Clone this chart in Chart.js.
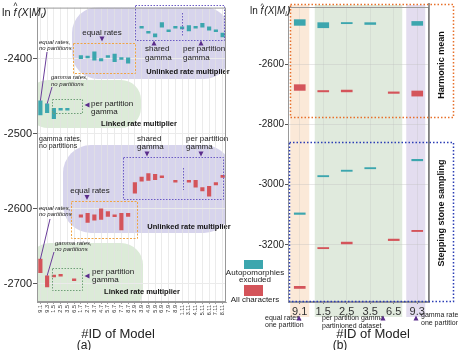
<!DOCTYPE html>
<html>
<head>
<meta charset="utf-8">
<script src="https://cdn.jsdelivr.net/npm/chart.js@4.4.0/dist/chart.umd.min.js"></script>
<style>
body { margin: 0; background: #fff; }
#wrap { position: relative; width: 458px; height: 350px; }
canvas { position: absolute; left: 0; top: 0; }
</style>
</head>
<body>
<div id="wrap">
  <canvas id="left" width="458" height="350"></canvas>
  <canvas id="right" width="458" height="350"></canvas>
</div>
<script>
// panel (a): all models
const modelsA = ['9.1','9.3','1.5','2.5','3.5','6.5','1.7','2.7','3.7','4.7','5.7','6.7','7.7','8.7',
                 '2.9','3.9','4.9','5.9','6.9','7.9','8.9','1.11','3.11','4.11','5.11','6.11','7.11','8.11'];
const autapoA = [
  [-2475,-2456], [-2472,-2460], [-2480,-2466], [-2468.5,-2466], [-2468.5,-2466], null,
  [-2400,-2396], [-2399,-2396.5], [-2402,-2391], [-2403,-2400], [-2398.5,-2396], [-2404,-2394], [-2401,-2398.5], [-2406,-2399],
  null, [-2359.5,-2357], [-2366,-2363.5], [-2371,-2367], [-2358,-2352], [-2364,-2361.5], [-2359.5,-2357],
  [-2360.5,-2357.5], [-2363,-2356], [-2359.5,-2357], [-2358,-2353], [-2362,-2357.5], [-2364,-2361.5], [-2371,-2366]
];
const allCharsA = [
  [-2685,-2667], [-2704,-2689], [-2690.5,-2688], [-2689.5,-2687], null, [-2695.5,-2693],
  [-2611,-2608], [-2618,-2606], [-2615,-2608], [-2614,-2600], [-2610,-2603.5], [-2610.5,-2608], [-2628,-2606], [-2610,-2606],
  [-2579,-2565], [-2563,-2557.5], [-2562,-2553], [-2561,-2554], [-2558.5,-2556], null, [-2564.5,-2562],
  null, [-2564.5,-2562], [-2571,-2562], [-2576,-2571.5], [-2583,-2570], [-2568,-2565], [-2558,-2555.5]
];
const ticksA = [-2700, -2600, -2500, -2400];

// panel (b): selected models, two estimators
const modelsB = ['9.1','1.5','2.5','3.5','6.5','9.3'];
const harmonicAutapo = [[-2471,-2452], [-2479,-2462], [-2463.5,-2461.5], [-2468,-2462], null, [-2471,-2458]];
const harmonicAll    = [[-2687,-2668], [-2692,-2687.5], [-2692,-2686], null, [-2697,-2692], [-2706,-2689]];
const steppingAutapo = [[-3099,-3094], [-2974,-2970], [-2955,-2952], [-2946,-2943.5], null, [-2921,-2916]];
const steppingAll    = [[-3345,-3338], [-3213,-3209], [-3197,-3191], null, [-3186,-3181], [-3156,-3152]];
const ticksB = [-3200, -3000, -2800, -2600];

const F = '"Liberation Sans", Arial, sans-serif';
const TEAL = 'rgb(60,166,174)';
const RED = 'rgb(212,84,90)';
const PURPLE = '#5b2d8c';

function rr(ctx, x0, y0, x1, y1, r) {
  ctx.beginPath();
  ctx.moveTo(x0 + r, y0);
  ctx.arcTo(x1, y0, x1, y1, r);
  ctx.arcTo(x1, y1, x0, y1, r);
  ctx.arcTo(x0, y1, x0, y0, r);
  ctx.arcTo(x0, y0, x1, y0, r);
  ctx.closePath();
}
function box(ctx, x0, y0, x1, y1, color, dash, lw) {
  ctx.save();
  ctx.strokeStyle = color; ctx.lineWidth = lw || 1; ctx.setLineDash(dash);
  ctx.strokeRect(x0 + 0.5, y0 + 0.5, x1 - x0, y1 - y0);
  ctx.restore();
}
function vline(ctx, x, y0, y1, color, dash) {
  ctx.save();
  ctx.strokeStyle = color; ctx.lineWidth = 1; ctx.setLineDash(dash);
  ctx.beginPath(); ctx.moveTo(x + 0.5, y0); ctx.lineTo(x + 0.5, y1); ctx.stroke();
  ctx.restore();
}
function txt(ctx, s, x, y, font, align, color) {
  ctx.save();
  ctx.font = font; ctx.textAlign = align || 'left'; ctx.textBaseline = 'middle';
  ctx.fillStyle = color || '#222';
  ctx.fillText(s, x, y);
  ctx.restore();
}
function tri(ctx, x, y, dir, s) {
  ctx.save();
  ctx.fillStyle = PURPLE;
  ctx.beginPath();
  if (dir === 'down') { ctx.moveTo(x - s, y - s); ctx.lineTo(x + s, y - s); ctx.lineTo(x, y + s); }
  if (dir === 'up')   { ctx.moveTo(x - s, y + s); ctx.lineTo(x + s, y + s); ctx.lineTo(x, y - s); }
  if (dir === 'left') { ctx.moveTo(x + s, y - s); ctx.lineTo(x + s, y + s); ctx.lineTo(x - s, y); }
  ctx.closePath(); ctx.fill();
  ctx.restore();
}
function leader(ctx, x0, y0, x1, y1) {
  ctx.save();
  ctx.strokeStyle = '#6a3d9a'; ctx.lineWidth = 1;
  ctx.beginPath(); ctx.moveTo(x0, y0); ctx.lineTo(x1, y1); ctx.stroke();
  ctx.restore();
}
function lnF(ctx, x, y, size) {
  ctx.save();
  ctx.fillStyle = '#222'; ctx.textBaseline = 'alphabetic'; ctx.textAlign = 'left';
  ctx.font = size + 'px ' + F;
  ctx.fillText('ln', x, y);
  let cx = x + ctx.measureText('ln ').width;
  ctx.font = 'italic ' + size + 'px ' + F;
  ctx.fillText('f', cx, y);
  const fw = ctx.measureText('f').width;
  ctx.font = (size * 0.75) + 'px ' + F;
  ctx.fillText('^', cx, y - size * 0.62);
  cx += fw + 1;
  ctx.font = 'italic ' + size + 'px ' + F;
  ctx.fillText('(X|M', cx, y);
  cx += ctx.measureText('(X|M').width;
  ctx.font = 'italic ' + (size * 0.65) + 'px ' + F;
  ctx.fillText('i', cx, y + 2);
  cx += ctx.measureText('i').width + 0.5;
  ctx.font = 'italic ' + size + 'px ' + F;
  ctx.fillText(')', cx, y);
  ctx.restore();
}
function frame(chart) {
  const a = chart.chartArea, ctx = chart.ctx;
  ctx.save();
  ctx.strokeStyle = '#999'; ctx.lineWidth = 1;
  ctx.strokeRect(a.left + 0.5, a.top + 0.5, a.right - a.left - 1, a.bottom - a.top - 1);
  ctx.restore();
}

const decoA = {
  id: 'decoA',
  beforeDraw(chart) {
    const ctx = chart.ctx, a = chart.chartArea;
    ctx.save();
    ctx.beginPath(); ctx.rect(a.left, a.top, a.right - a.left, a.bottom - a.top); ctx.clip();
    ctx.fillStyle = '#d7d4ec';
    rr(ctx, 72, 7, 230, 79, 26); ctx.fill();
    rr(ctx, 63, 145, 232, 233, 28); ctx.fill();
    ctx.fillStyle = '#dcebd8';
    rr(ctx, 28, 80, 141, 128, 20); ctx.fill();
    rr(ctx, 28, 243, 143, 312, 22); ctx.fill();
    ctx.restore();
  },
  afterDatasetsDraw(chart) {
    const ctx = chart.ctx, x = chart.scales.x, y = chart.scales.y;
    const OR = '#f0a444', PU = '#6c5cc4', GR = '#6f9f78';
    box(ctx, 73, 43, 135, 73, OR, [2, 1.5]);
    box(ctx, 135, 5, 224, 40, PU, [1.5, 1.5]);
    vline(ctx, 182, 13, 36, PU, [1.5, 1.5]);
    box(ctx, 52, 99, 82, 113, GR, [1.5, 1.5]);
    box(ctx, 123, 157, 223, 199, PU, [1.5, 1.5]);
    vline(ctx, 183, 168, 190, PU, [1.5, 1.5]);
    box(ctx, 71, 201, 137, 238, OR, [2, 1.5]);
    box(ctx, 52, 268, 82, 290, GR, [1.5, 1.5]);

    const R = '8px ' + F, B = 'bold 7.5px ' + F, I = 'italic 6px ' + F;
    // upper (autapomorphies excluded)
    txt(ctx, 'equal rates', 102, 33, R, 'center'); tri(ctx, 102, 39, 'down', 2.5);
    txt(ctx, 'shared', 145, 49, R); txt(ctx, 'gamma', 145, 58, R); tri(ctx, 154, 43, 'up', 2.5);
    txt(ctx, 'per partition', 183, 49, R); txt(ctx, 'gamma', 183, 58, R); tri(ctx, 201, 43, 'up', 2.5);
    txt(ctx, 'Unlinked rate multiplier', 188, 72, B, 'center', '#111');
    txt(ctx, 'equal rates,', 39, 42, I); txt(ctx, 'no partitions', 39, 48, I);
    leader(ctx, 47, 52, x.getPixelForValue(0), y.getPixelForValue(autapoA[0][1]));
    txt(ctx, 'gamma rates,', 51, 77, I); txt(ctx, 'no partitions', 51, 84, I);
    leader(ctx, 52, 87, x.getPixelForValue(1), y.getPixelForValue(autapoA[1][1]));
    tri(ctx, 87, 105, 'left', 2.5);
    txt(ctx, 'per partition', 91, 104, R); txt(ctx, 'gamma', 91, 112, R);
    txt(ctx, 'Linked rate multiplier', 139, 124, B, 'center', '#111');
    // lower (all characters)
    txt(ctx, 'gamma rates,', 39, 139, '7px ' + F); txt(ctx, 'no partitions', 39, 146, '7px ' + F);
    txt(ctx, 'shared', 137, 139, R); txt(ctx, 'gamma', 137, 147, R); tri(ctx, 147, 154, 'down', 2.5);
    txt(ctx, 'per partition', 186, 139, R); txt(ctx, 'gamma', 186, 147, R); tri(ctx, 201, 154, 'down', 2.5);
    txt(ctx, 'equal rates', 90, 191, R, 'center'); tri(ctx, 87, 197.5, 'down', 2.5);
    txt(ctx, 'equal rates,', 39, 208, I); txt(ctx, 'no partitions', 39, 214, I);
    leader(ctx, 50, 219, x.getPixelForValue(0), y.getPixelForValue(allCharsA[0][1]));
    txt(ctx, 'Unlinked rate multiplier', 189, 227, B, 'center', '#111');
    txt(ctx, 'gamma rates,', 55, 243, I); txt(ctx, 'no partitions', 55, 249, I);
    leader(ctx, 54, 252, x.getPixelForValue(1), y.getPixelForValue(allCharsA[1][1]));
    tri(ctx, 87, 276, 'left', 2.5);
    txt(ctx, 'per partition', 92, 272, R); txt(ctx, 'gamma', 92, 280, R);
    txt(ctx, 'Linked rate multiplier', 142, 292, B, 'center', '#111');
  },
  afterDraw(chart) {
    const ctx = chart.ctx;
    frame(chart);
    lnF(ctx, 2, 16, 11);
    txt(ctx, '#ID of Model', 118, 334, '13px ' + F, 'center', '#222');
    txt(ctx, '(a)', 84, 346, '12px ' + F, 'center', '#222');
  }
};

const decoB = {
  id: 'decoB',
  beforeDraw(chart) {
    const ctx = chart.ctx, x = chart.scales.x;
    ctx.save();
    ctx.fillStyle = '#fbe9d8';
    ctx.fillRect(x.getPixelForValue(0) - 9.5, 5, 19, 312);
    ctx.fillStyle = '#e0eadd';
    ctx.fillRect(x.getPixelForValue(1) - 8.5, 5, x.getPixelForValue(4) - x.getPixelForValue(1) + 17, 312);
    ctx.fillStyle = '#e3ddef';
    ctx.fillRect(x.getPixelForValue(5) - 11, 5, 19, 312);
    ctx.restore();
  },
  afterDatasetsDraw(chart) {
    const ctx = chart.ctx;
    frame(chart);
    ctx.save();
    ctx.strokeStyle = '#777'; ctx.lineWidth = 1.5;
    ctx.beginPath(); ctx.moveTo(chart.chartArea.right, 3); ctx.lineTo(chart.chartArea.right, 302); ctx.stroke();
    ctx.restore();
    box(ctx, 290, 4, 453, 117, '#e8702a', [1.5, 2], 1.5);
    box(ctx, 289, 142, 453, 301, '#2a3db5', [1.5, 2], 1.5);
  },
  afterDraw(chart) {
    const ctx = chart.ctx;
    lnF(ctx, 250, 14, 10);
    ctx.save();
    ctx.translate(442, 65); ctx.rotate(-Math.PI / 2);
    txt(ctx, 'Harmonic mean', 0, 0, 'bold 9px ' + F, 'center', '#111');
    ctx.restore();
    ctx.save();
    ctx.translate(442, 213); ctx.rotate(-Math.PI / 2);
    txt(ctx, 'Stepping stone sampling', 0, 0, 'bold 9px ' + F, 'center', '#111');
    ctx.restore();
    // legend
    ctx.save();
    ctx.fillStyle = TEAL; ctx.fillRect(244, 260, 19, 9);
    ctx.fillStyle = RED; ctx.fillRect(244, 285, 19, 11);
    ctx.restore();
    txt(ctx, 'Autopomorphies', 255, 273, '8px ' + F, 'center');
    txt(ctx, 'excluded', 255, 280, '8px ' + F, 'center');
    txt(ctx, 'All characters', 255, 300, '8px ' + F, 'center');
    // notes under the axis
    const S = '7px ' + F;
    txt(ctx, 'equal rates,', 265, 318, S); txt(ctx, 'one partition', 265, 325, S); tri(ctx, 299, 318, 'up', 2.5);
    txt(ctx, 'per partition gamma', 322, 318, S); txt(ctx, 'partinioned dataset', 322, 326, S); tri(ctx, 383, 318, 'up', 2.5);
    txt(ctx, 'gamma rates,', 421, 315, S); txt(ctx, 'one partition', 421, 323, S); tri(ctx, 416, 318, 'up', 2.5);
    txt(ctx, '#ID of Model', 373, 334, '13px ' + F, 'center', '#222');
    txt(ctx, '(b)', 340, 346, '12px ' + F, 'center', '#222');
  }
};

new Chart(document.getElementById('left'), {
  type: 'bar',
  data: {
    labels: modelsA,
    datasets: [
      { label: 'Autopomorphies excluded', data: autapoA, backgroundColor: TEAL },
      { label: 'All characters', data: allCharsA, backgroundColor: RED }
    ]
  },
  options: {
    responsive: false,
    animation: false,
    grouped: false,
    barThickness: 3.5,
    minBarLength: 1.5,
    layout: { padding: { left: 0, right: 232, top: 3, bottom: 0 } },
    plugins: { legend: { display: false }, tooltip: { enabled: false } },
    scales: {
      x: {
        grid: { offset: false, color: '#e2e2e2', lineWidth: 0.7, tickLength: 2, tickColor: '#777' },
        border: { color: '#999' },
        ticks: { autoSkip: false, minRotation: 90, maxRotation: 90, padding: 1, color: '#333', font: { size: 5.5, family: F } },
        afterFit(s) { s.height = 48; }
      },
      y: {
        min: -2724, max: -2332,
        afterBuildTicks(s) { s.ticks = ticksA.map(v => ({ value: v })); },
        grid: { color: '#ebebeb', tickLength: 4, tickColor: '#555' },
        border: { color: '#999' },
        ticks: { padding: 1, color: '#222', font: { size: 11, family: F }, callback: v => String(v) },
        afterFit(s) { s.width = 37; }
      }
    }
  },
  plugins: [decoA]
});

new Chart(document.getElementById('right'), {
  type: 'bar',
  data: {
    labels: modelsB,
    datasets: [
      { label: 'Harmonic, autopomorphies excluded', data: harmonicAutapo, backgroundColor: TEAL },
      { label: 'Harmonic, all characters', data: harmonicAll, backgroundColor: RED },
      { label: 'Stepping stone, autopomorphies excluded', data: steppingAutapo, backgroundColor: TEAL },
      { label: 'Stepping stone, all characters', data: steppingAll, backgroundColor: RED }
    ]
  },
  options: {
    responsive: false,
    animation: false,
    grouped: false,
    barThickness: 11,
    minBarLength: 1.2,
    layout: { padding: { left: 230, right: 29, top: 3, bottom: 0 } },
    plugins: { legend: { display: false }, tooltip: { enabled: false } },
    scales: {
      x: {
        grid: { offset: false, color: 'rgba(190,190,190,0.35)', lineWidth: 0.8, tickLength: 2, tickColor: '#666' },
        border: { color: '#999' },
        ticks: { padding: 1, color: '#333', font: { size: 11, family: F } },
        afterFit(s) { s.height = 48; }
      },
      y: {
        min: -3390, max: -2410,
        afterBuildTicks(s) { s.ticks = ticksB.map(v => ({ value: v })); },
        grid: { color: 'rgba(190,190,190,0.35)', tickLength: 3, tickColor: '#555' },
        border: { color: '#999' },
        ticks: { padding: 1, color: '#222', font: { size: 10, family: F }, callback: v => String(v) },
        afterFit(s) { s.width = 58; }
      }
    }
  },
  plugins: [decoB]
});
</script>
</body>
</html>
